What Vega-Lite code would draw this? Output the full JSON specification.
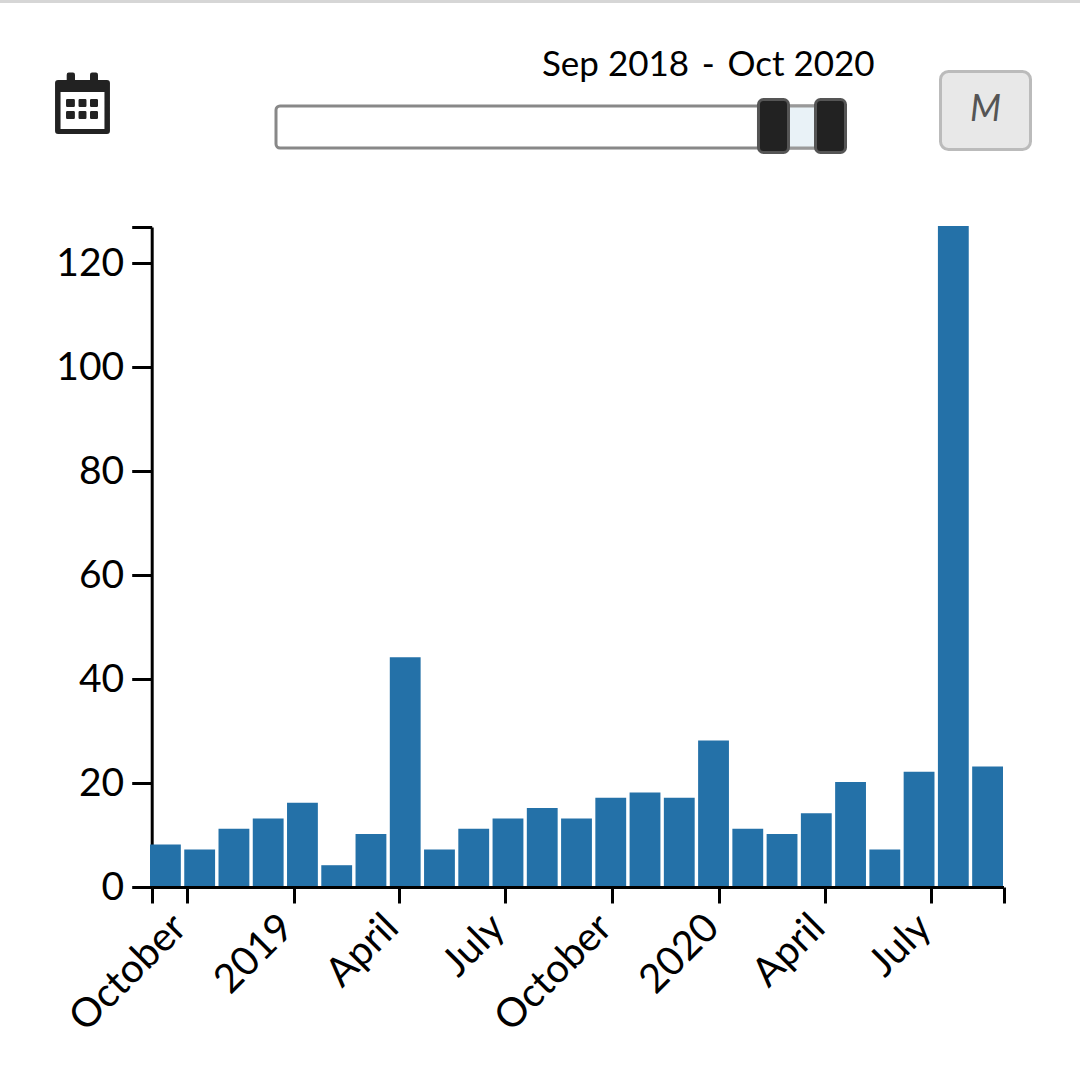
{
  "$schema": "https://vega.github.io/schema/vega-lite/v6.json",
  "description": "monthly counts with date range slider",
  "autosize": "none",
  "padding": {"left": 150, "top": 227, "right": 77, "bottom": 188},
  "width": 853,
  "height": 660,
  "background": "white",
  "config": {"view": {"stroke": null}, "font": "Lato"},
  "datasets": {
    "months": [
      {"month": "2018-09", "count": 8},
      {"month": "2018-10", "count": 7},
      {"month": "2018-11", "count": 11},
      {"month": "2018-12", "count": 13},
      {"month": "2019-01", "count": 16},
      {"month": "2019-02", "count": 4},
      {"month": "2019-03", "count": 10},
      {"month": "2019-04", "count": 44},
      {"month": "2019-05", "count": 7},
      {"month": "2019-06", "count": 11},
      {"month": "2019-07", "count": 13},
      {"month": "2019-08", "count": 15},
      {"month": "2019-09", "count": 13},
      {"month": "2019-10", "count": 17},
      {"month": "2019-11", "count": 18},
      {"month": "2019-12", "count": 17},
      {"month": "2020-01", "count": 28},
      {"month": "2020-02", "count": 11},
      {"month": "2020-03", "count": 10},
      {"month": "2020-04", "count": 14},
      {"month": "2020-05", "count": 20},
      {"month": "2020-06", "count": 7},
      {"month": "2020-07", "count": 22},
      {"month": "2020-08", "count": 127},
      {"month": "2020-09", "count": 23}
    ],
    "controls": [
      {"control": "topbar"},
      {"control": "calendar"},
      {"control": "button", "label": "M"}
    ],
    "dates": [
      {"piece": "start", "label": "Sep 2018"},
      {"piece": "dash", "label": "-"},
      {"piece": "end", "label": "Oct 2020"}
    ],
    "slider": [
      {"part": "track", "from": "2000-11-01", "to": "2020-10-01"},
      {"part": "selected", "from": "2018-09-01", "to": "2020-10-01"}
    ],
    "handles": [
      {"part": "handle", "at": "2018-09-01"},
      {"part": "handle", "at": "2020-10-01"}
    ]
  },
  "resolve": {"scale": {"x": "independent", "y": "independent"}, "axis": {"x": "independent", "y": "independent"}},
  "layer": [
    {
      "data": {"name": "months"},
      "mark": {"type": "bar", "color": "#2471a8", "yOffset": -1, "y2Offset": -1},
      "encoding": {
        "x": {"field": "month", "type": "ordinal", "axis": null,
          "scale": {"paddingInner": 0.1, "paddingOuter": 0}},
        "y": {"field": "count", "type": "quantitative",
          "scale": {"domain": [0, 127], "nice": false},
          "axis": {"title": null, "values": [0, 20, 40, 60, 80, 100, 120, 127], "grid": false,
            "labelExpr": "datum.value == 127 ? '' : datum.label",
            "offset": -1.7, "domainColor": "black", "domainWidth": 3, "tickColor": "black", "tickWidth": 3, "tickSize": 20,
            "labelFont": "Lato", "labelFontSize": 39, "labelColor": "black", "labelPadding": 8}}
      }
    },
    {
      "data": {"name": "months"},
      "mark": {"type": "point", "opacity": 0},
      "encoding": {
        "x": {"field": "month", "type": "temporal",
          "scale": {"type": "utc", "domain": ["2018-09-01", "2020-09-01"], "range": [1.7, 853.5]},
          "axis": {"title": null, "grid": false,
            "values": ["2018-09-01", "2018-10-01", "2019-01-01", "2019-04-01", "2019-07-01", "2019-10-01", "2020-01-01", "2020-04-01", "2020-07-01", "2020-09-01"],
            "labelExpr": "utcmonth(datum.value) == 8 ? '' : utcmonth(datum.value) == 0 ? utcFormat(datum.value, '%Y') : utcFormat(datum.value, '%B')",
            "labelOverlap": false, "labelBound": false, "labelFlush": false,
            "domainColor": "black", "domainWidth": 3, "tickColor": "black", "tickWidth": 3, "tickSize": 16,
            "labelFont": "Lato", "labelFontSize": 40, "labelColor": "black", "labelAngle": -45, "labelAlign": "right", "labelBaseline": "middle", "labelPadding": 18, "labelOffset": -7}}
      }
    },
    {
      "data": {"name": "slider"},
      "transform": [{"filter": "datum.part == 'track'"}],
      "mark": {"type": "bar", "height": 42, "fill": "white", "stroke": "#888888", "strokeWidth": 3, "cornerRadius": 4},
      "encoding": {
        "x": {"field": "from", "type": "temporal", "axis": null,
          "scale": {"type": "utc", "domain": ["2000-11-01", "2020-10-01"], "range": [126, 681]}},
        "x2": {"field": "to"},
        "y": {"field": "part", "type": "nominal", "axis": null, "scale": {"type": "point", "range": [-100, -100]}}
      }
    },
    {
      "data": {"name": "slider"},
      "transform": [{"filter": "datum.part == 'selected'"}],
      "mark": {"type": "bar", "height": 42, "fill": "#e9f2f7", "stroke": "#999999", "strokeWidth": 3, "cornerRadius": 4},
      "encoding": {
        "x": {"field": "from", "type": "temporal", "axis": null,
          "scale": {"type": "utc", "domain": ["2000-11-01", "2020-10-01"], "range": [126, 681]}},
        "x2": {"field": "to"},
        "y": {"field": "part", "type": "nominal", "axis": null, "scale": {"type": "point", "range": [-100, -100]}}
      }
    },
    {
      "data": {"name": "handles"},
      "mark": {"type": "bar", "width": 30, "height": 53, "fill": "#222222", "stroke": "#555555", "strokeWidth": 3, "cornerRadius": 5},
      "encoding": {
        "x": {"field": "at", "type": "temporal", "axis": null,
          "scale": {"type": "utc", "domain": ["2000-11-01", "2020-10-01"], "range": [130.5, 685.5]}},
        "y": {"field": "part", "type": "nominal", "axis": null, "scale": {"type": "point", "range": [-101, -101]}}
      }
    },
    {
      "data": {"name": "controls"},
      "transform": [{"filter": "datum.control == 'topbar'"}],
      "mark": {"type": "bar", "width": 1080, "height": 4, "fill": "#d6d6d6"},
      "encoding": {
        "x": {"field": "control", "type": "nominal", "axis": null, "scale": {"type": "point", "range": [390, 390]}},
        "y": {"field": "control", "type": "nominal", "axis": null, "scale": {"type": "point", "range": [-226, -226]}}
      }
    },
    {
      "data": {"name": "controls"},
      "transform": [{"filter": "datum.control == 'calendar'"}],
      "mark": {"type": "point", "filled": true, "fill": "#222222", "opacity": 1, "strokeWidth": 0, "size": 3721,
        "shape": "M-0.8 -0.754 L-0.518 -0.754 L-0.518 -0.93 Q-0.518 -1 -0.45 -1 L-0.314 -1 Q-0.246 -1 -0.246 -0.93 L-0.246 -0.754 L0.246 -0.754 L0.246 -0.93 Q0.246 -1 0.314 -1 L0.44 -1 Q0.508 -1 0.508 -0.93 L0.508 -0.754 L0.8 -0.754 Q0.9 -0.754 0.9 -0.654 L0.9 0.916 Q0.9 1.016 0.8 1.016 L-0.8 1.016 Q-0.9 1.016 -0.9 0.916 L-0.9 -0.654 Q-0.9 -0.754 -0.8 -0.754 Z M-0.72 -0.361 L-0.72 0.852 L0.72 0.852 L0.72 -0.361 Z M-0.54 -0.09 Q-0.54 -0.131 -0.5 -0.131 L-0.29 -0.131 Q-0.25 -0.131 -0.25 -0.09 L-0.25 0.09 Q-0.25 0.131 -0.29 0.131 L-0.5 0.131 Q-0.54 0.131 -0.54 0.09 Z M-0.13 -0.09 Q-0.13 -0.131 -0.09 -0.131 L0.09 -0.131 Q0.13 -0.131 0.13 -0.09 L0.13 0.09 Q0.13 0.131 0.09 0.131 L-0.09 0.131 Q-0.13 0.131 -0.13 0.09 Z M0.246 -0.09 Q0.246 -0.131 0.286 -0.131 L0.468 -0.131 Q0.508 -0.131 0.508 -0.09 L0.508 0.09 Q0.508 0.131 0.468 0.131 L0.286 0.131 Q0.246 0.131 0.246 0.09 Z M-0.54 0.303 Q-0.54 0.262 -0.5 0.262 L-0.29 0.262 Q-0.25 0.262 -0.25 0.303 L-0.25 0.484 Q-0.25 0.525 -0.29 0.525 L-0.5 0.525 Q-0.54 0.525 -0.54 0.484 Z M-0.13 0.303 Q-0.13 0.262 -0.09 0.262 L0.09 0.262 Q0.13 0.262 0.13 0.303 L0.13 0.484 Q0.13 0.525 0.09 0.525 L-0.09 0.525 Q-0.13 0.525 -0.13 0.484 Z M0.246 0.303 Q0.246 0.262 0.286 0.262 L0.468 0.262 Q0.508 0.262 0.508 0.303 L0.508 0.484 Q0.508 0.525 0.468 0.525 L0.286 0.525 Q0.246 0.525 0.246 0.484 Z"},
      "encoding": {
        "x": {"field": "control", "type": "nominal", "axis": null, "scale": {"type": "point", "range": [-67.5, -67.5]}},
        "y": {"field": "control", "type": "nominal", "axis": null, "scale": {"type": "point", "range": [-124, -124]}}
      }
    },
    {
      "data": {"name": "controls"},
      "transform": [{"filter": "datum.control == 'button'"}],
      "mark": {"type": "bar", "width": 90, "height": 78, "fill": "#e8e8e8", "stroke": "#bbbbbb", "strokeWidth": 3, "cornerRadius": 8},
      "encoding": {
        "x": {"field": "control", "type": "nominal", "axis": null, "scale": {"type": "point", "range": [835.5, 835.5]}},
        "y": {"field": "control", "type": "nominal", "axis": null, "scale": {"type": "point", "range": [-116.5, -116.5]}}
      }
    },
    {
      "data": {"name": "controls"},
      "transform": [{"filter": "datum.control == 'button'"}],
      "mark": {"type": "text", "font": "Lato", "fontStyle": "italic", "fontSize": 36, "fill": "#555555", "align": "center", "baseline": "middle"},
      "encoding": {
        "x": {"field": "control", "type": "nominal", "axis": null, "scale": {"type": "point", "range": [835.5, 835.5]}},
        "y": {"field": "control", "type": "nominal", "axis": null, "scale": {"type": "point", "range": [-117.5, -117.5]}},
        "text": {"field": "label"}
      }
    },
    {
      "data": {"name": "dates"},
      "mark": {"type": "text", "font": "Lato", "fontSize": 35, "fill": "black", "align": "center", "baseline": "middle"},
      "encoding": {
        "x": {"field": "piece", "type": "nominal", "axis": null, "sort": null, "scale": {"type": "point", "padding": 0, "range": [465.5, 651]}},
        "y": {"datum": 0, "type": "quantitative", "axis": null, "scale": {"domain": [0, 1], "range": [-162, -200]}},
        "text": {"field": "label"}
      }
    }
  ]
}
